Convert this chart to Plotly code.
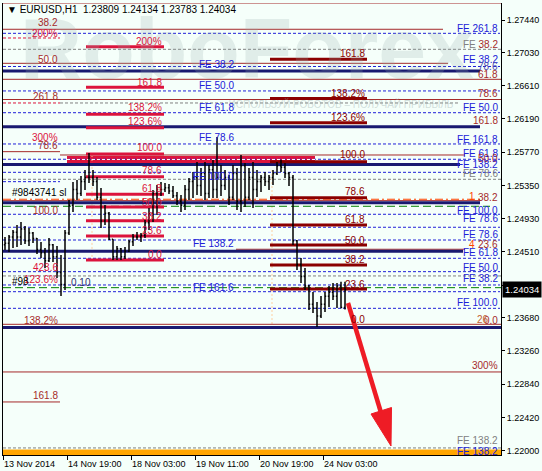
import plotly.graph_objects as go

FONT = "Liberation Sans"
BG = "#F5FFFA"
BLUE = "#2020D8"
BROWN = "#A52A2A"
CRIMSON = "#DC143C"
DARKRED = "#8B0000"
NAVY = "#191970"
GRAY = "#808080"
GREEN = "#008000"
ORANGERED = "#FF4500"

# ---------------- axes ----------------
x_tick_vals = [0, 32, 64, 96, 128, 160]          # hours from chart start (H1 bars)
x_tick_text = ["13 Nov 2014", "14 Nov 19:00", "18 Nov 03:00",
               "19 Nov 11:00", "20 Nov 19:00", "24 Nov 03:00"]
y_tick_vals = [1.22000, 1.22420, 1.22840, 1.23260, 1.23680, 1.24090, 1.24510,
               1.24930, 1.25350, 1.25770, 1.26190, 1.26610, 1.27030, 1.27440]
x_range = [0, 249]
y_range = [1.21945, 1.27655]

# ---------------- price bars (2-hour sampling) ----------------
bar_time = [1 + 2 * i for i in range(86)]
bar_high = [1.24699, 1.24724, 1.24788, 1.24851, 1.24889, 1.24838, 1.24813, 1.24762, 1.24686, 1.24636,
            1.24560, 1.24686, 1.24610, 1.24585, 1.24471, 1.24788, 1.25167, 1.25394, 1.25419, 1.25470,
            1.25545, 1.25761, 1.25545, 1.25457, 1.25318, 1.25104, 1.25015, 1.24670, 1.24585, 1.24560,
            1.24572, 1.24661, 1.24737, 1.24762, 1.24750, 1.24914, 1.25066, 1.25293, 1.25356, 1.25394,
            1.25381, 1.25369, 1.25343, 1.25268, 1.25230, 1.25356, 1.25445, 1.25520, 1.25647, 1.25571,
            1.25647, 1.25609, 1.25672, 1.25963, 1.25609, 1.25545, 1.25483, 1.25609, 1.25571, 1.25736,
            1.25634, 1.25571, 1.25647, 1.25545, 1.25483, 1.25520, 1.25483, 1.25545, 1.25647, 1.25672,
            1.25634, 1.25520, 1.25483, 1.24661, 1.24433, 1.24307, 1.24093, 1.24004, 1.23878, 1.23954,
            1.24004, 1.24080, 1.24118, 1.24118, 1.24134, 1.24134]
bar_low = [1.24534, 1.24509, 1.24560, 1.24572, 1.24598, 1.24610, 1.24585, 1.24623, 1.24484, 1.24433,
           1.24307, 1.24383, 1.24383, 1.24181, 1.23954, 1.24030, 1.24724, 1.25015, 1.25167, 1.25217,
           1.25293, 1.25381, 1.25343, 1.25167, 1.24813, 1.24851, 1.24661, 1.24408, 1.24408, 1.24408,
           1.24421, 1.24509, 1.24585, 1.24661, 1.24636, 1.24686, 1.24788, 1.24889, 1.24977, 1.25217,
           1.25268, 1.25242, 1.25192, 1.25104, 1.25015, 1.25040, 1.25167, 1.25192, 1.25230, 1.25217,
           1.25167, 1.25192, 1.25192, 1.25192, 1.25217, 1.25293, 1.25104, 1.25167, 1.25040, 1.25015,
           1.25078, 1.25167, 1.25066, 1.25204, 1.25268, 1.25343, 1.25293, 1.25356, 1.25483, 1.25520,
           1.25445, 1.25343, 1.24598, 1.24282, 1.24118, 1.24030, 1.23777, 1.23739, 1.23562, 1.23676,
           1.23752, 1.23815, 1.23904, 1.23802, 1.23800, 1.23783]
bar_close = [1.24620, 1.24700, 1.24760, 1.24700, 1.24800, 1.24650, 1.24750, 1.24680, 1.24540, 1.24500,
             1.24400, 1.24600, 1.24450, 1.24250, 1.24100, 1.24750, 1.25100, 1.25300, 1.25250, 1.25400,
             1.25450, 1.25450, 1.25400, 1.25200, 1.24900, 1.25000, 1.24670, 1.24450, 1.24550, 1.24450,
             1.24520, 1.24640, 1.24700, 1.24700, 1.24720, 1.24880, 1.25000, 1.25250, 1.25300, 1.25300,
             1.25320, 1.25280, 1.25220, 1.25150, 1.25100, 1.25300, 1.25400, 1.25450, 1.25350, 1.25500,
             1.25250, 1.25550, 1.25300, 1.25450, 1.25350, 1.25450, 1.25200, 1.25500, 1.25150, 1.25600,
             1.25200, 1.25450, 1.25300, 1.25400, 1.25450, 1.25400, 1.25450, 1.25500, 1.25600, 1.25580,
             1.25500, 1.25450, 1.24650, 1.24350, 1.24200, 1.24080, 1.23850, 1.23800, 1.23700, 1.23850,
             1.23950, 1.24000, 1.23950, 1.24080, 1.23809, 1.24034]
first_open = 1.24600
bar_open = [first_open] + bar_close[:-1]
last_price = 1.24034
title_text = "▼ EURUSD,H1  1.23809 1.24134 1.23783 1.24034"

# ---------------- levels ----------------
fe_dashed = [1.27272, 1.26853, 1.26544, 1.26269, 1.25874, 1.25681, 1.25516, 1.24986,
             1.24822, 1.24661, 1.24430, 1.24261, 1.24093, 1.24008, 1.23798]
fe_short_dashed = [1.25398]
gray_dashed = [1.27070, 1.25428, 1.24207]
gray_dashed_mid = [1.26392]
brown_prices = [1.27655, 1.27323, 1.26893, 1.26691, 1.26436, 1.25777, 1.25735, 1.25158,
                1.24544, 1.23596, 1.22994, 1.22615]
brown_starts = [0, 0, 0, 0, 0, 0, 28.5, 0, 116.5, 0, 0, 0]
brown_ends = [249, 220, 222.5, 249, 249, 28.5, 231, 238.5, 231, 249, 249, 28.5]
navy_prices = [1.26796, 1.26093, 1.25615, 1.25133, 1.24519, 1.23556]
navy_ends = [238.5, 238.5, 228.5, 238.5, 230, 249]
red_dashed_left = [1.27213, 1.26392]
orange_dashdot = [1.25176]
green_prices = [1.25087, 1.24059]
green_ends = [243.5, 249]

mid_fib = [1.27103, 1.26590, 1.26249, 1.26080, 1.25748, 1.25461, 1.25239, 1.25078, 1.24905, 1.24712, 1.24409]
mid_fib_text = ["200%", "161.8", "138.2%", "123.6%", "100.0", "78.6", "61.8", "50.0", "38.2", "23.6", "0.0"]
mid_fib_label_y = [1.27175, 1.26657, 1.26329, 1.26152, 1.25824, 1.25533, 1.25306, 1.25141, 1.24964, 1.24775, 1.24472]
mid_span = [41.5, 80.5]

right_fib = [1.26944, 1.26449, 1.26143, 1.25650, 1.25196, 1.24851, 1.24598, 1.24346, 1.24042]
right_fib_text = ["161.8", "138.2%", "123.6%", "100.0", "78.6", "61.8", "50.0", "38.2", "23.6", "0.0"]
right_fib_label_y = [1.27011, 1.26518, 1.26214, 1.25735, 1.25268, 1.24914, 1.24661, 1.24421, 1.24105, 1.23651]
right_span = [133.5, 182]

red_band = [1.25634, 1.25723]
red_band_span = [32, 156]
bottom_band = [1.21945, 1.22015]
bottom_dashed = [1.22034]
vlines_time = [44.5, 134.5]
vlines_from = [1.25736, 1.25545]
vlines_to = [1.24409, 1.23562]

# right-edge labels: (text, price, color)
right_labels = [("FE 261.8", 1.27339, BLUE), ("FE 38.2", 1.26935, BLUE), ("78.6", 1.26847, "#5050B0"),
                ("61.8", 1.26758, BROWN), ("78.6", 1.26506, BROWN), ("FE 50.0", 1.26341, BLUE),
                ("161.8", 1.26177, BROWN), ("FE 161.8", 1.25925, BLUE), ("FE 61.8", 1.25760, BLUE),
                ("50.0", 1.25685, BROWN), ("FE 138.2", 1.25609, BLUE), ("FE 78.6", 1.25495, GRAY),
                ("38.2", 1.25192, BROWN), ("FE 100.0", 1.25040, BLUE), ("FE 78.6", 1.24927, BLUE),
                ("FE 78.6", 1.24725, BLUE), ("23.6", 1.24598, BROWN), ("FE 61.8", 1.24497, BLUE),
                ("FE 50.0", 1.24320, BLUE), ("FE 38.2", 1.24169, BLUE), ("FE 100.0", 1.23866, BLUE),
                ("0.0", 1.23638, BROWN), ("300%", 1.23070, BROWN), ("FE 138.2", 1.22122, GRAY),
                ("FE 138.2", 1.21990, BLUE)]
mixed_label_y = 1.27137
mid_fe_labels = [("FE 38.2", 1.26872), ("FE 50.0", 1.26607), ("FE 61.8", 1.26341),
                 ("FE 78.6", 1.25962), ("FE 100.0", 1.25457), ("FE 138.2", 1.24623), ("FE 161.6", 1.24055)]
left_labels = [("38.2", 1.27415, BROWN), ("200%", 1.27264, CRIMSON), ("50.0", 1.26935, BROWN),
               ("261.8", 1.26480, BROWN), ("300%", 1.25962, CRIMSON), ("78.6", 1.25861, BROWN),
               ("100.0", 1.25040, BROWN), ("423.6", 1.24308, CRIMSON), ("123.6%", 1.24156, CRIMSON),
               ("138.2%", 1.23638, BROWN), ("161.8", 1.22691, BROWN)]

fig = go.Figure()

# watermark (drawn first so bars sit above it)
fig.add_trace(go.Scatter(x=[122], y=[1.26985], mode="text", text=["RoboForex"],
                         textfont=dict(family="Liberation Sans", size=86,
                                       color="rgba(150,175,175,0.22)", weight="bold"),
                         hoverinfo="skip", showlegend=False))
fig.add_trace(go.Scatter(x=[169], y=[1.26355], mode="text",
                         text=["ИСПОЛЬЗУЙ РОБОТОВ – ПОЛУЧАЙ ПРИБЫЛЬ"],
                         textfont=dict(family=FONT, size=10, color="rgba(150,170,170,0.4)"),
                         hoverinfo="skip", showlegend=False))

fig.add_trace(go.Ohlc(x=bar_time, open=bar_open, high=bar_high, low=bar_low, close=bar_close,
                      increasing=dict(line=dict(color="black", width=1.5)),
                      decreasing=dict(line=dict(color="black", width=1.5)),
                      tickwidth=0.3, hoverinfo="skip", showlegend=False))

shapes = []


def hline(p, x0, x1, color, width=1, dash="solid", layer="below"):
    shapes.append(dict(type="line", xref="x", yref="y", x0=x0, x1=x1, y0=p, y1=p,
                       line=dict(color=color, width=width, dash=dash), layer=layer))


# bands
shapes.append(dict(type="rect", xref="x", yref="y", x0=red_band_span[0], x1=red_band_span[1],
                   y0=red_band[0], y1=red_band[1], fillcolor=CRIMSON, line=dict(width=0), layer="below"))
shapes.append(dict(type="rect", xref="x", yref="y", x0=x_range[0], x1=x_range[1],
                   y0=bottom_band[0], y1=bottom_band[1], fillcolor="#FFA500", line=dict(width=0), layer="below"))
hline(bottom_dashed[0], x_range[0], x_range[1], GRAY, 1, "3px,2px")

for t, a, b in zip(vlines_time, vlines_from, vlines_to):
    shapes.append(dict(type="line", xref="x", yref="y", x0=t, x1=t, y0=a, y1=b,
                       line=dict(color="#FFCFA0", width=1, dash="2px,2px"), layer="below"))

for p, s, e in zip(brown_prices, brown_starts, brown_ends):
    hline(p, s, e, BROWN, 1)
for p in fe_dashed:
    hline(p, 0, 248.5, BLUE, 1, "3px,2px")
for p in fe_short_dashed:
    hline(p, 0, 28.5, BLUE, 1, "3px,2px")
for p in gray_dashed:
    hline(p, 0, 249, GRAY, 1, "3px,2px")
for p in gray_dashed_mid:
    hline(p, 28.5, 228.5, GRAY, 1, "3px,2px")
for p in red_dashed_left:
    hline(p, 0, 28.5, CRIMSON, 1, "3px,2px")
for p in orange_dashdot:
    hline(p, 0, 238.5, ORANGERED, 1, "8px,3px,2px,3px")
for p, e in zip(green_prices, green_ends):
    hline(p, 0, e, GREEN, 1, "8px,4px")
for p, e in zip(navy_prices, navy_ends):
    hline(p, 0, e, NAVY, 3)
for p in mid_fib:
    hline(p, mid_span[0], mid_span[1], CRIMSON, 3)
for p in right_fib:
    hline(p, right_span[0], right_span[1], DARKRED, 3)
hline((red_band[0] + red_band[1]) / 2, red_band_span[0], red_band_span[1], "white", 1, "3px,2px")

# red arrow (drawn in pixel space of the plot area)
L, T, W, H = 3, 3, 498, 452


def px(xp, yp):
    return (xp - L) / W, (T + H - yp) / H


ax0, ay0 = px(348, 303)
ax1, ay1 = px(382, 416)
shapes.append(dict(type="line", xref="paper", yref="paper", x0=ax0, y0=ay0, x1=ax1, y1=ay1,
                   line=dict(color="#EE1C25", width=4.5), layer="above"))
h1, h2, h3 = px(371, 414), px(391.5, 407.5), px(391, 446)
shapes.append(dict(type="path", xref="paper", yref="paper",
                   path=f"M{h1[0]},{h1[1]} L{h2[0]},{h2[1]} L{h3[0]},{h3[1]} Z",
                   fillcolor="#EE1C25", line=dict(color="#EE1C25", width=1), layer="above"))

annotations = []


def label(text, x, y, color, anchor="right", size=10):
    annotations.append(dict(x=x, y=y, xref="x", yref="y", text=text, showarrow=False,
                            xanchor=anchor, yanchor="middle",
                            font=dict(family=FONT, size=size, color=color)))


for t, y, c in right_labels:
    label(t, 248.5, y, c)
label(f'<span style="color:{GRAY}">FE</span> <span style="color:{BROWN}">38.2</span>', 248.5, mixed_label_y, BROWN)
label("1", 237, 1.25205, ORANGERED)
label("4", 237, 1.24610, ORANGERED)
label("26", 244, 1.23660, "#C06030")
for t, y in mid_fe_labels:
    label(t, 116.5, y, BLUE)
for t, y in zip(mid_fib_text, mid_fib_label_y):
    label(t, mid_span[1], y, CRIMSON)
for t, y in zip(right_fib_text, right_fib_label_y):
    label(t, right_span[1], y, DARKRED)
for t, y, c in left_labels:
    label(t, 28.5, y, c)
label("#9843741 sl", 3.5, 1.25255, "black", "left")
label("#98", 3.5, 1.24143, "black", "left")
label("0.10", 33, 1.24118, "#303070", "left")

annotations.append(dict(x=0.004, y=0.985, xref="paper", yref="paper", text=title_text,
                        showarrow=False, xanchor="left", yanchor="middle",
                        font=dict(family=FONT, size=10, color="black")))
annotations.append(dict(x=1, y=last_price, xref="paper", yref="y", text=f"{last_price:.5f}",
                        showarrow=False, xanchor="left", yanchor="middle", xshift=1,
                        bgcolor="black", borderpad=2,
                        font=dict(family=FONT, size=9.5, color="white")))

fig.update_layout(
    width=542, height=471,
    margin=dict(l=3, r=41, t=3, b=16),
    paper_bgcolor=BG, plot_bgcolor=BG,
    showlegend=False, hovermode=False,
    shapes=shapes, annotations=annotations,
)
fig.update_xaxes(range=x_range, tickvals=x_tick_vals, ticktext=x_tick_text,
                 ticks="outside", ticklen=4, tickcolor="black",
                 ticklabelposition="outside right",
                 tickfont=dict(family=FONT, size=9, color="black"),
                 showline=True, linecolor="black", linewidth=1, showgrid=False,
                 zeroline=False, rangeslider=dict(visible=False), fixedrange=True)
fig.update_yaxes(range=y_range, tickvals=y_tick_vals, ticktext=[f"{v:.5f}" for v in y_tick_vals],
                 side="right", ticks="outside", ticklen=3, tickcolor="black",
                 tickfont=dict(family=FONT, size=9, color="black"),
                 showline=True, linecolor="black", linewidth=1, mirror=True,
                 showgrid=False, zeroline=False, fixedrange=True)

fig.write_html("out.html", config={"displayModeBar": False},
               post_script="document.body.style.margin='0';document.body.style.background='#F5FFFA';")
